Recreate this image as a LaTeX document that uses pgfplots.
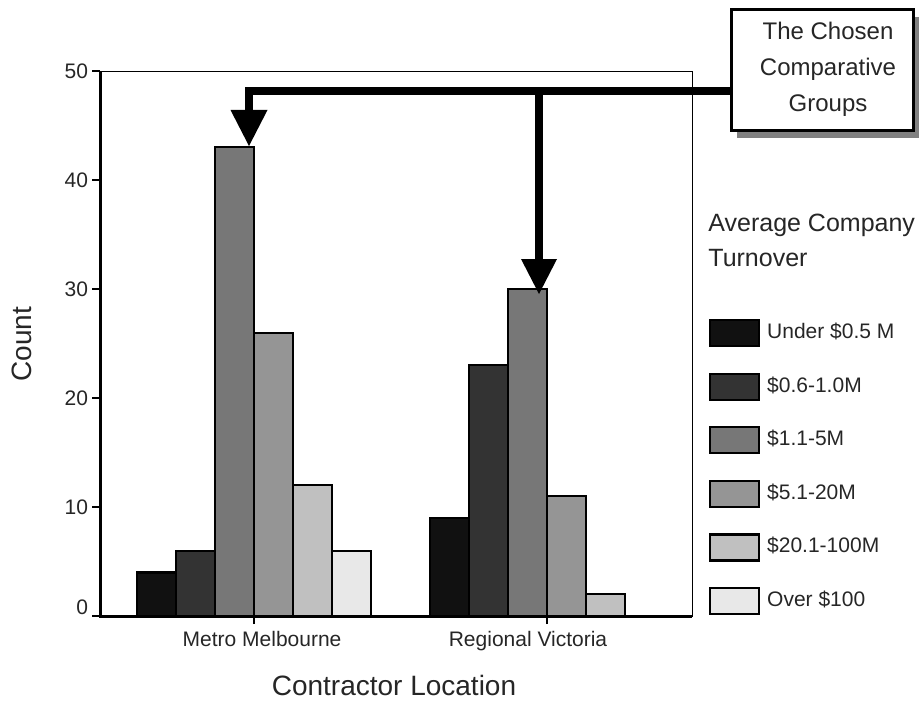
\documentclass[border=0pt]{standalone}
\usepackage{pgfplots}
\pgfplotsset{compat=1.18}
\usepackage{fontspec}
\setmainfont{Liberation Sans}
\definecolor{c1}{HTML}{111111}
\definecolor{c2}{HTML}{333333}
\definecolor{c3}{HTML}{777777}
\definecolor{c4}{HTML}{959595}
\definecolor{c5}{HTML}{C0C0C0}
\definecolor{c6}{HTML}{E8E8E8}
\begin{document}
\begin{tikzpicture}
\path[use as bounding box] (0,0) rectangle (462pt,-350pt);
\begin{axis}[
  at={(50pt,-308pt)}, anchor=south west,
  scale only axis, width=296pt, height=272.5pt,
  xmin=-0.526, xmax=1.495, ymin=0, ymax=50,
  ybar=0pt, bar width=19.5pt,
  xtick={0,1},
  xticklabels={\hspace*{8pt}Metro Melbourne, Regional Victoria\hspace*{19pt}},
  ytick={0,10,20,30,40,50},
  yticklabels={\raisebox{9pt}{0},10,20,30,40,50},
  tick align=outside, xtick pos=lower, ytick pos=left,
  major tick length=4pt,
  tick style={black, line width=1pt},
  axis line style={black, line width=0.5pt},
  ticklabel style={font=\fontsize{10.5}{12}\selectfont, text=black!85},
  yticklabel style={xshift=1.5pt},
  /pgf/number format/assume math mode=true,
  clip=false,
  legend cell align=left,
  legend image code/.code={\draw[#1] (0pt,-6.5pt) rectangle (24.5pt,6.5pt);},
  legend style={at={(axis description cs:1.0287,0.545)}, anchor=north west,
    draw=none, fill=none, inner sep=0pt, outer sep=0pt, row sep=12.7pt,
    font=\fontsize{10.5}{12}\selectfont, text=black!85,
    nodes={inner sep=1.5pt, text height=7.5pt, text depth=2pt},
    /tikz/every odd column/.style={column sep=2pt}},
  every axis plot/.append style={draw=black, line width=1.1pt},
]
\addplot[fill=c1] coordinates {(0,4) (1,9)};
\addlegendentry{Under \$0.5 M}
\addplot[fill=c2] coordinates {(0,6) (1,23)};
\addlegendentry{\$0.6-1.0M}
\addplot[fill=c3] coordinates {(0,43) (1,30)};
\addlegendentry{\$1.1-5M}
\addplot[fill=c4] coordinates {(0,26) (1,11)};
\addlegendentry{\$5.1-20M}
\addplot[fill=c5] coordinates {(0,12) (1,2)};
\addlegendentry{\$20.1-100M}
\addplot[fill=c6] coordinates {(0,6)};
\addlegendentry{Over \$100}
\draw[line width=1.5pt] (rel axis cs:0,1) -- (rel axis cs:0,0) -- (rel axis cs:1,0);
\end{axis}
\begin{scope}[x=0.5pt,y=-0.5pt]
\draw[line width=4pt, line join=miter, line cap=butt] (738,91) -- (248.5,91) -- (248.5,112);
\fill (230.5,110) -- (267.5,110) -- (249,146) -- cycle;
\draw[line width=4pt] (539,91) -- (539,262);
\fill (521,259) -- (557,259) -- (539,294) -- cycle;
\fill[black!50] (737,17) rectangle (919,138);
\draw[line width=1.5pt, fill=white] (731,10) rectangle (913,131);
\node[align=center, text=black!85, font=\fontsize{12}{18}\selectfont] at (828,69) {The Chosen\\Comparative\\Groups};
\node[anchor=north west, inner sep=0pt, align=left, text=black!85, font=\fontsize{12.5}{17.5}\selectfont] at (708,214) {Average Company\\Turnover};
\node[rotate=90, text=black!85, font=\fontsize{14}{16}\selectfont] at (22,344) {Count};
\node[text=black!85, font=\fontsize{14}{16}\selectfont] at (394,685) {Contractor Location};
\end{scope}
\end{tikzpicture}
\end{document}
